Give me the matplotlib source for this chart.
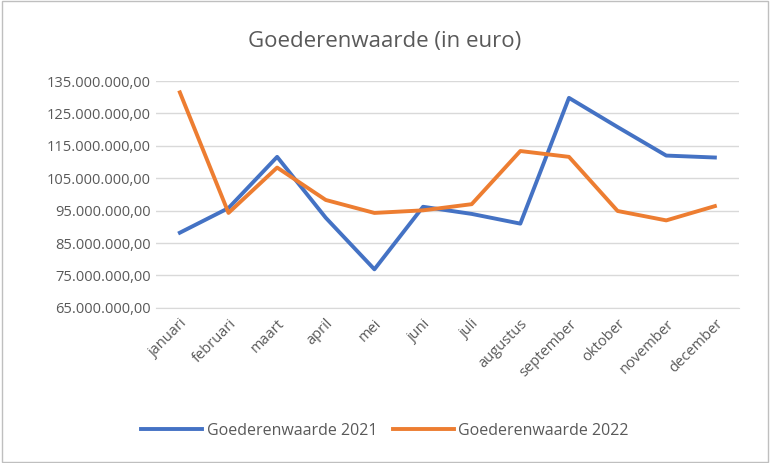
import matplotlib
matplotlib.use("Agg")
import matplotlib.pyplot as plt
from matplotlib.ticker import FuncFormatter

months = ["januari","februari","maart","april","mei","juni","juli","augustus","september","oktober","november","december"]
v2021 = [88.2e6, 95.8e6, 111.6e6, 92.8e6, 76.9e6, 96.2e6, 94.0e6, 91.0e6, 129.8e6, 120.8e6, 112.0e6, 111.4e6]
v2022 = [131.5e6, 94.3e6, 108.3e6, 98.3e6, 94.3e6, 95.1e6, 97.0e6, 113.4e6, 111.6e6, 94.9e6, 92.0e6, 96.4e6]
yticks = [65e6, 75e6, 85e6, 95e6, 105e6, 115e6, 125e6, 135e6]

plt.rcParams["font.family"] = "Open Sans"
grey = "#595959"
fig = plt.figure(figsize=(7.7, 4.63), dpi=100)
ax = fig.add_axes([0.202, 0.335, 0.758, 0.49])
x = range(len(months))
ax.plot(x, v2021, color="#4472C4", lw=2.8, label="Goederenwaarde 2021")
ax.plot(x, v2022, color="#ED7D31", lw=2.8, label="Goederenwaarde 2022")
ax.set_ylim(65e6, 135e6)
ax.set_yticks(yticks)
ax.yaxis.set_major_formatter(FuncFormatter(lambda v, p: f"{int(round(v)):,}".replace(",", ".") + ",00"))
ax.set_xlim(-0.5, 11.5)
ax.set_xticks(list(x))
ax.set_xticklabels(months, rotation=45, ha="right", rotation_mode="anchor")
ax.grid(axis="y", color="#D9D9D9", lw=1)
ax.set_axisbelow(True)
for s in ["top", "right", "left"]:
    ax.spines[s].set_visible(False)
ax.spines["bottom"].set_color("#D9D9D9")
ax.tick_params(length=0, colors=grey, labelsize=10.5)
ax.tick_params(axis="x", pad=6)
fig.text(0.5, 0.91, "Goederenwaarde (in euro)", ha="center", va="center", fontsize=16, color=grey)
fig.legend(loc="center", bbox_to_anchor=(0.5, 0.07), ncol=2, frameon=False, fontsize=11.5,
           labelcolor=grey, handlelength=3.8, columnspacing=1.0, handletextpad=0.3)
fig.patches.append(plt.Rectangle((0.002, 0.003), 0.996, 0.994, transform=fig.transFigure,
                                 fill=False, edgecolor="#BFBFBF", lw=1))
fig.savefig("out.png", dpi=100)
